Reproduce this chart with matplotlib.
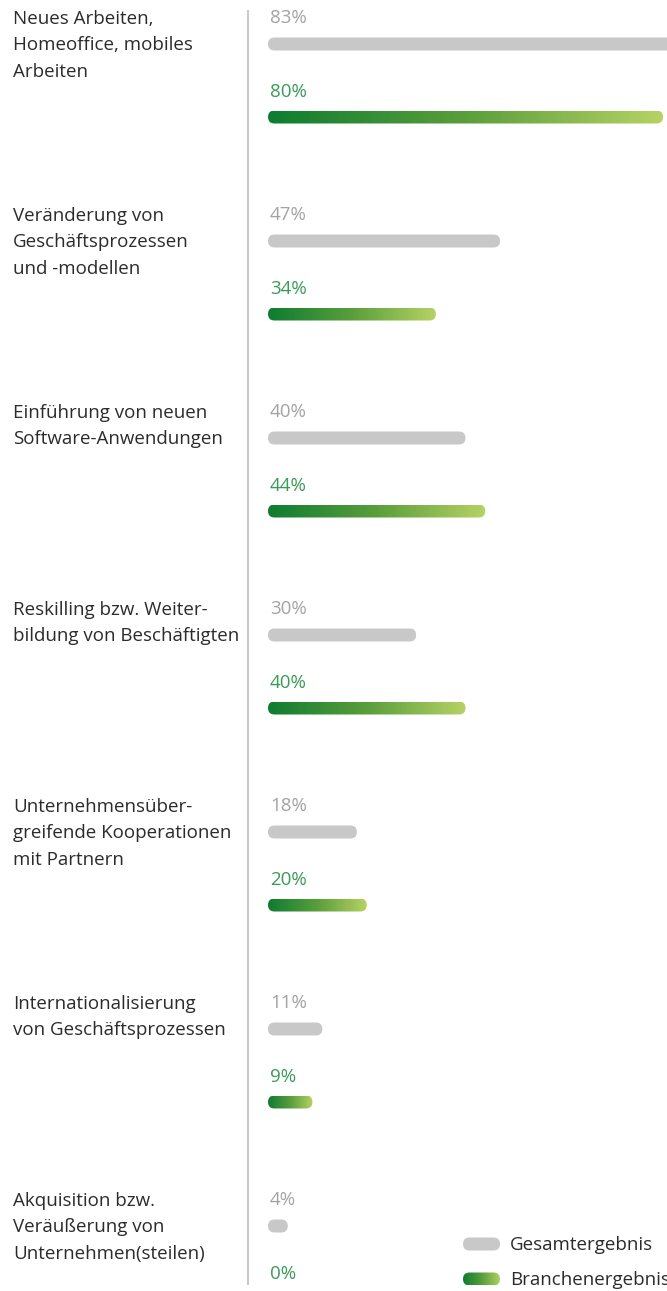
import numpy as np
import matplotlib
matplotlib.use("Agg")
import matplotlib.pyplot as plt
from matplotlib.patches import FancyBboxPatch
from matplotlib.colors import LinearSegmentedColormap

plt.rcParams['font.family'] = ['Open Sans', 'DejaVu Sans']

categories = [
    "Neues Arbeiten,\nHomeoffice, mobiles\nArbeiten",
    "Veränderung von\nGeschäftsprozessen\nund -modellen",
    "Einführung von neuen\nSoftware-Anwendungen",
    "Reskilling bzw. Weiter-\nbildung von Beschäftigten",
    "Unternehmensüber-\ngreifende Kooperationen\nmit Partnern",
    "Internationalisierung\nvon Geschäftsprozessen",
    "Akquisition bzw.\nVeräußerung von\nUnternehmen(steilen)",
]
gesamt = [83, 47, 40, 30, 18, 11, 4]
branche = [80, 34, 44, 40, 20, 9, 0]
legend_labels = ["Gesamtergebnis", "Branchenergebnis"]

W, H = 667, 1291
DPI = 100
fig = plt.figure(figsize=(W / DPI, H / DPI), dpi=DPI)
ax = fig.add_axes([0, 0, 1, 1])
ax.set_axis_off()

# geometry (pixels)
x0_px = 268.0
px_per_pct = 4.9375
group_px = 197.0
gray_top_px = 44.0
green_off_px = 73.0
bar_h_px = 13.0

ax.set_xlim(-x0_px / px_per_pct, (W - x0_px) / px_per_pct)
ax.set_ylim((H - gray_top_px) / group_px, -gray_top_px / group_px)

xu = 1.0 / px_per_pct      # x data units per pixel
yu = 1.0 / group_px        # y data units per pixel
bar_h = bar_h_px * yu
green_off = green_off_px * yu

gray_col = "#c8c8c8"
gray_txt = "#a3a3a3"
green_txt = "#3a9a57"
label_col = "#2b2b2b"
cmap = LinearSegmentedColormap.from_list("g", ["#0e7c31", "#5a9e3c", "#b6d264"])
grad = np.linspace(0, 1, 256).reshape(1, -1)


def pill(xs, xe, yc, face=None, gradient=False, clip=True):
    w = xe - xs
    if w <= 0:
        return
    patch = FancyBboxPatch((xs, yc - bar_h / 2), w, bar_h,
                           boxstyle=f"round,pad=0,rounding_size={bar_h_px / 2 * xu}",
                           mutation_aspect=yu / xu,
                           linewidth=0, facecolor=face if face else "none",
                           transform=ax.transData, clip_on=clip)
    ax.add_patch(patch)
    if gradient:
        im = ax.imshow(grad, cmap=cmap, aspect="auto",
                       extent=[xs, xe, yc + bar_h / 2, yc - bar_h / 2],
                       interpolation="bilinear", zorder=2)
        im.set_clip_path(patch)


fs = 13.5
for i, (cat, g, b) in enumerate(zip(categories, gesamt, branche)):
    yg = i
    yb = i + green_off
    pill(0, g, yg, face=gray_col)
    pill(0, b, yb, gradient=True)
    ax.text(2 * xu, yg - 26 * yu, f"{g}%", color=gray_txt, fontsize=fs,
            va="center", ha="left")
    ax.text(2 * xu, yb - 25 * yu, f"{b}%", color=green_txt, fontsize=fs,
            va="center", ha="left")
    ax.text(-(x0_px - 13) * xu, yg - 34 * yu, cat, color=label_col, fontsize=fs,
            va="top", ha="left", linespacing=1.6)

# vertical separator
ax.plot([-20 * xu, -20 * xu], [(10 - gray_top_px) * yu, (1285 - gray_top_px) * yu],
        color="#c9c9c9", lw=1.5, solid_capstyle="butt")

# legend
leg_x0 = (463 - x0_px) * xu
leg_x1 = (500 - x0_px) * xu
leg_y = [(1244 - gray_top_px) * yu, (1279 - gray_top_px) * yu]
pill(leg_x0, leg_x1, leg_y[0], face=gray_col)
pill(leg_x0, leg_x1, leg_y[1], gradient=True)
for lbl, ly in zip(legend_labels, leg_y):
    ax.text((510 - x0_px) * xu, ly + 1 * yu, lbl, color=label_col, fontsize=fs,
            va="center", ha="left")

fig.savefig("out.png", dpi=DPI)
